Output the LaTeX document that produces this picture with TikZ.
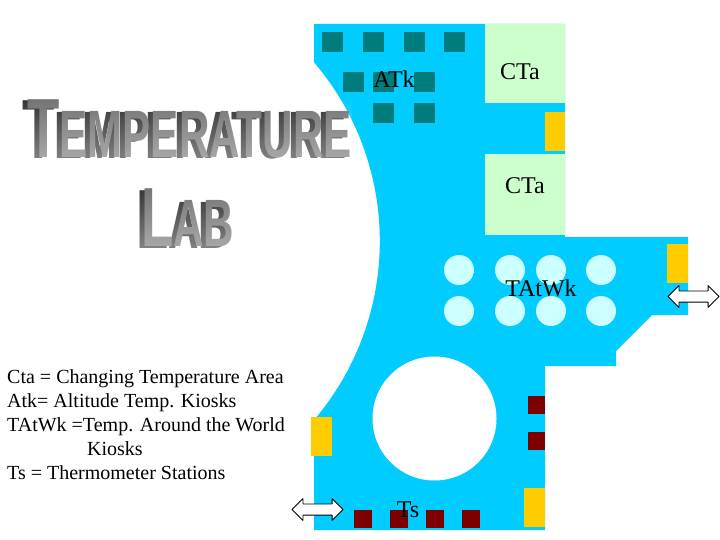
\documentclass[tikz,border=0pt]{standalone}
\usepackage{fontspec}
\setmainfont{Liberation Serif}
\newfontfamily\titlefont{Liberation Sans}
\usetikzlibrary{shapes.arrows,fadings}
\definecolor{floorblue}{HTML}{00CCFF}
\definecolor{areagreen}{HTML}{CCFFCC}
\definecolor{doorgold}{HTML}{FFCC00}
\definecolor{kioskteal}{HTML}{007C7C}
\definecolor{stationred}{HTML}{7C0000}
\definecolor{worldcyan}{HTML}{CCFFFF}
\newcommand{\labtitle}{{\fontsize{84}{84}\selectfont T}{\fontsize{67}{67}\selectfont EMPERATURE}}
\newcommand{\labword}{{\fontsize{84}{84}\selectfont L}{\fontsize{67}{67}\selectfont AB}}
\begin{document}
\begin{tikzpicture}[x=1pt, y=-1pt, line join=round]
	\useasboundingbox (0,0) rectangle (720,540);
	\tikzset{
		roomtext/.style={font=\fontsize{24}{24}\selectfont, inner sep=0pt},
		legendtext/.style={font=\fontsize{20}{22}\selectfont, anchor=base west, inner sep=0pt},
		titletext/.style={font=\titlefont\bfseries, anchor=base west, inner sep=0pt, transform shape, xscale=0.63},
		exit/.style={double arrow, draw=black, fill=white, line width=0.8pt, minimum height=51pt,
			double arrow head extend=5.3pt, double arrow tip angle=90, inner xsep=0pt, inner ysep=5.2pt}
	}
	
	% ---- floor ----
	\fill[floorblue] (314,24) -- (565,24) -- (565,237) -- (688,237) -- (688,315) -- (652,315)
		-- (616,351) -- (616,366) -- (545,366) -- (545,530) -- (314,530) -- (314,420)
		arc[radius=276, start angle=40.4, end angle=-40.4] -- cycle;
	\fill[white] (434.5,418.5) circle (62);
	
	% ---- changing temperature areas ----
	\fill[areagreen] (485,24) rectangle (565,103);
	\fill[areagreen] (485,154) rectangle (565,235);
	
	% ---- doors ----
	\foreach \x/\y/\h in {544.5/112/39, 667/244/39, 311/417/39, 524/488/39}{
		\fill[doorgold] (\x,\y) rectangle ++(20.5,\h);
	}
	
	% ---- altitude kiosks ----
	\foreach \x/\y in {322/32, 363/32, 404/32, 444/32, 343/72, 373/72, 414/72, 373/103, 414/103}{
		\fill[kioskteal] (\x,\y) rectangle ++(20.5,20.5);
	}
	
	% ---- around the world kiosks ----
	\foreach \x in {459,510,551,601}{
		\foreach \y in {270,311}{
			\fill[worldcyan] (\x,\y) circle (15);
		}
	}
	
	% ---- thermometer stations ----
	\foreach \x/\y/\w in {528/396/17, 528/432/17, 354/510/18, 390/510/18, 426/510/18, 462/510/18}{
		\fill[stationred] (\x,\y) rectangle ++(\w,18);
	}
	
	% ---- room labels ----
	\node[roomtext] (cta1) at (520,72) {CTa};
	\node[roomtext] (cta2) at (525,186) {CTa};
	\node[roomtext] (atk) at (394,79) {ATk};
	\node[roomtext] (tatwk) at (541,288) {TAtWk};
	\node[roomtext] (ts) at (408,510) {Ts};
	
	% ---- exits ----
	\node[exit] (exitE) at (693.5,296.5) {};
	\node[exit] (exitW) at (317.5,509.5) {};
	
	% ---- title: dark copy for the sides, then the face, then lighter towards the bottom ----
	\node[titletext, text=black!80] (title1side) at (22,159) {\labtitle};
	\node[titletext, text=black!80] (title2side) at (136,248) {\labword};
	\node[titletext, text=black!55] (title1) at (27,158) {\labtitle};
	\node[titletext, text=black!55] (title2) at (141,247) {\labword};
	\fill[white, fill opacity=0.4, path fading=north] (15,98) rectangle (352,162);
	\fill[white, fill opacity=0.4, path fading=north] (130,185) rectangle (240,250);
	
	% ---- legend ----
	\node[legendtext] (leg1) at (7,383) {Cta = Changing Temperature Area};
	\node[legendtext] (leg2) at (7,407) {Atk= Altitude Temp. Kiosks};
	\node[legendtext] (leg3) at (7,431) {TAtWk =Temp. Around the World};
	\node[legendtext] (leg4) at (87,455) {Kiosks};
	\node[legendtext] (leg5) at (7,479) {Ts = Thermometer Stations};
\end{tikzpicture}
\end{document}
